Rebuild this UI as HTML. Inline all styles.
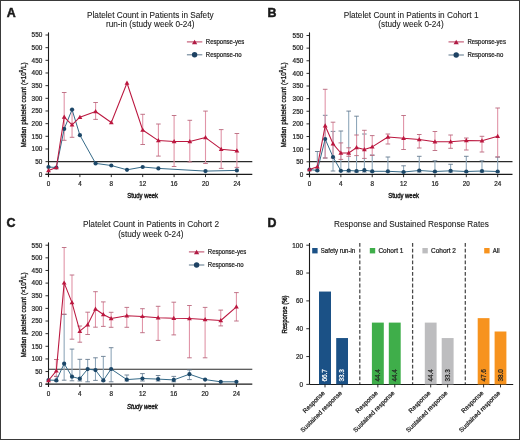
<!DOCTYPE html>
<html><head><meta charset="utf-8"><style>
html,body{margin:0;padding:0;background:#fff;}
svg{display:block;will-change:transform;}
text{font-family:"Liberation Sans", sans-serif;stroke:#1a1a1a;stroke-width:0.22px;}
.w{fill:#fff;stroke:#fff;}
.L{font-weight:bold;stroke-width:0.5px;}
.T text{stroke-width:0.08px;}
.k{fill:#222;stroke:#222;}
</style></head><body>
<svg width="520" height="440" viewBox="0 0 520 440" fill="#1a1a1a">
<rect x="0" y="0" width="520" height="440" fill="#fff"/>
<rect x="0.5" y="0.5" width="519" height="439" fill="none" stroke="#3a3a3a" stroke-width="1"/>
<g font-weight="bold" font-size="12.4">
<text x="6.8" y="16.8" class="L">A</text>
<text x="267.6" y="16.8" class="L">B</text>
<text x="6.6" y="226.8" class="L">C</text>
<text x="267.4" y="226.7" class="L">D</text>
</g>
<g font-size="8.22" text-anchor="middle" class="T">
<text x="150.3" y="17.7">Platelet Count in Patients in Safety</text>
<text x="150.3" y="27.1">run-in (study week 0-24)</text>
<text x="411.1" y="17.7">Platelet Count in Patients in Cohort 1</text>
<text x="411.0" y="27.1">(study week 0-24)</text>
<text x="151.0" y="227.4" font-size="8.3">Platelet Count in Patients in Cohort 2</text>
<text x="150.8" y="236.6">(study week 0-24)</text>
<text x="411.4" y="226.9">Response and Sustained Response Rates</text>
</g>
<path d="M48.50 32.40V177.10" stroke="#1a1a1a" stroke-width="1.1"/>
<path d="M45.50 174.30H48.50" stroke="#1a1a1a" stroke-width="0.9"/>
<text transform="translate(42.30 176.65) scale(0.97 1)" font-size="6.6" text-anchor="end" fill="#2a2a2a">0</text>
<path d="M45.50 161.64H48.50" stroke="#1a1a1a" stroke-width="0.9"/>
<text transform="translate(42.30 163.99) scale(0.97 1)" font-size="6.6" text-anchor="end" fill="#2a2a2a">50</text>
<path d="M45.50 148.97H48.50" stroke="#1a1a1a" stroke-width="0.9"/>
<text transform="translate(42.30 151.32) scale(0.97 1)" font-size="6.6" text-anchor="end" fill="#2a2a2a">100</text>
<path d="M45.50 136.31H48.50" stroke="#1a1a1a" stroke-width="0.9"/>
<text transform="translate(42.30 138.66) scale(0.97 1)" font-size="6.6" text-anchor="end" fill="#2a2a2a">150</text>
<path d="M45.50 123.65H48.50" stroke="#1a1a1a" stroke-width="0.9"/>
<text transform="translate(42.30 126.00) scale(0.97 1)" font-size="6.6" text-anchor="end" fill="#2a2a2a">200</text>
<path d="M45.50 110.98H48.50" stroke="#1a1a1a" stroke-width="0.9"/>
<text transform="translate(42.30 113.33) scale(0.97 1)" font-size="6.6" text-anchor="end" fill="#2a2a2a">250</text>
<path d="M45.50 98.32H48.50" stroke="#1a1a1a" stroke-width="0.9"/>
<text transform="translate(42.30 100.67) scale(0.97 1)" font-size="6.6" text-anchor="end" fill="#2a2a2a">300</text>
<path d="M45.50 85.65H48.50" stroke="#1a1a1a" stroke-width="0.9"/>
<text transform="translate(42.30 88.00) scale(0.97 1)" font-size="6.6" text-anchor="end" fill="#2a2a2a">350</text>
<path d="M45.50 72.99H48.50" stroke="#1a1a1a" stroke-width="0.9"/>
<text transform="translate(42.30 75.34) scale(0.97 1)" font-size="6.6" text-anchor="end" fill="#2a2a2a">400</text>
<path d="M45.50 60.33H48.50" stroke="#1a1a1a" stroke-width="0.9"/>
<text transform="translate(42.30 62.68) scale(0.97 1)" font-size="6.6" text-anchor="end" fill="#2a2a2a">450</text>
<path d="M45.50 47.66H48.50" stroke="#1a1a1a" stroke-width="0.9"/>
<text transform="translate(42.30 50.01) scale(0.97 1)" font-size="6.6" text-anchor="end" fill="#2a2a2a">500</text>
<path d="M45.50 35.00H48.50" stroke="#1a1a1a" stroke-width="0.9"/>
<text transform="translate(42.30 37.35) scale(0.97 1)" font-size="6.6" text-anchor="end" fill="#2a2a2a">550</text>
<path d="M45.50 174.30H252.30" stroke="#1a1a1a" stroke-width="1.2"/>
<path d="M48.50 174.30V177.10" stroke="#1a1a1a" stroke-width="0.9"/>
<text transform="translate(48.50 186.30) scale(0.97 1)" font-size="6.5" text-anchor="middle" fill="#2a2a2a">0</text>
<path d="M79.90 174.30V177.10" stroke="#1a1a1a" stroke-width="0.9"/>
<text transform="translate(79.90 186.30) scale(0.97 1)" font-size="6.5" text-anchor="middle" fill="#2a2a2a">4</text>
<path d="M111.30 174.30V177.10" stroke="#1a1a1a" stroke-width="0.9"/>
<text transform="translate(111.30 186.30) scale(0.97 1)" font-size="6.5" text-anchor="middle" fill="#2a2a2a">8</text>
<path d="M142.70 174.30V177.10" stroke="#1a1a1a" stroke-width="0.9"/>
<text transform="translate(142.70 186.30) scale(0.97 1)" font-size="6.5" text-anchor="middle" fill="#2a2a2a">12</text>
<path d="M174.10 174.30V177.10" stroke="#1a1a1a" stroke-width="0.9"/>
<text transform="translate(174.10 186.30) scale(0.97 1)" font-size="6.5" text-anchor="middle" fill="#2a2a2a">16</text>
<path d="M205.50 174.30V177.10" stroke="#1a1a1a" stroke-width="0.9"/>
<text transform="translate(205.50 186.30) scale(0.97 1)" font-size="6.5" text-anchor="middle" fill="#2a2a2a">20</text>
<path d="M236.90 174.30V177.10" stroke="#1a1a1a" stroke-width="0.9"/>
<text transform="translate(236.90 186.30) scale(0.97 1)" font-size="6.5" text-anchor="middle" fill="#2a2a2a">24</text>
<path d="M48.50 161.60H252.30" stroke="#2a2a2a" stroke-width="1.05"/>
<path d="M64.20 92.50V140.30" stroke="#e195a8" stroke-width="1.1" fill="none"/><path d="M61.90 92.50H66.50M61.90 140.30H66.50" stroke="#b9687d" stroke-width="0.9" fill="none"/>
<path d="M72.05 110.00V137.30" stroke="#e195a8" stroke-width="1.1" fill="none"/><path d="M69.75 110.00H74.35M69.75 137.30H74.35" stroke="#b9687d" stroke-width="0.9" fill="none"/>
<path d="M95.60 102.50V119.40" stroke="#e195a8" stroke-width="1.1" fill="none"/><path d="M93.30 102.50H97.90M93.30 119.40H97.90" stroke="#b9687d" stroke-width="0.9" fill="none"/>
<path d="M142.70 114.30V144.50" stroke="#e195a8" stroke-width="1.1" fill="none"/><path d="M140.40 114.30H145.00M140.40 144.50H145.00" stroke="#b9687d" stroke-width="0.9" fill="none"/>
<path d="M158.40 124.00V156.10" stroke="#e195a8" stroke-width="1.1" fill="none"/><path d="M156.10 124.00H160.70M156.10 156.10H160.70" stroke="#b9687d" stroke-width="0.9" fill="none"/>
<path d="M174.10 115.50V166.50" stroke="#e195a8" stroke-width="1.1" fill="none"/><path d="M171.80 115.50H176.40M171.80 166.50H176.40" stroke="#b9687d" stroke-width="0.9" fill="none"/>
<path d="M189.80 120.30V161.90" stroke="#e195a8" stroke-width="1.1" fill="none"/><path d="M187.50 120.30H192.10M187.50 161.90H192.10" stroke="#b9687d" stroke-width="0.9" fill="none"/>
<path d="M205.50 111.10V163.50" stroke="#e195a8" stroke-width="1.1" fill="none"/><path d="M203.20 111.10H207.80M203.20 163.50H207.80" stroke="#b9687d" stroke-width="0.9" fill="none"/>
<path d="M221.20 129.60V168.40" stroke="#e195a8" stroke-width="1.1" fill="none"/><path d="M218.90 129.60H223.50M218.90 168.40H223.50" stroke="#b9687d" stroke-width="0.9" fill="none"/>
<path d="M236.90 133.50V167.40" stroke="#e195a8" stroke-width="1.1" fill="none"/><path d="M234.60 133.50H239.20M234.60 167.40H239.20" stroke="#b9687d" stroke-width="0.9" fill="none"/>
<polyline points="48.50,167.00 56.35,167.50 64.20,128.90 72.05,109.60 79.90,135.20 95.60,163.40 111.30,165.50 127.00,169.80 142.70,167.00 158.40,168.40 205.50,171.10 236.90,170.40" fill="none" stroke="#356a88" stroke-width="1.0" stroke-linejoin="round"/>
<circle cx="48.50" cy="167.00" r="2.1" fill="#1c4768"/>
<circle cx="56.35" cy="167.50" r="2.1" fill="#1c4768"/>
<circle cx="64.20" cy="128.90" r="2.1" fill="#1c4768"/>
<circle cx="72.05" cy="109.60" r="2.1" fill="#1c4768"/>
<circle cx="79.90" cy="135.20" r="2.1" fill="#1c4768"/>
<circle cx="95.60" cy="163.40" r="2.1" fill="#1c4768"/>
<circle cx="111.30" cy="165.50" r="2.1" fill="#1c4768"/>
<circle cx="127.00" cy="169.80" r="2.1" fill="#1c4768"/>
<circle cx="142.70" cy="167.00" r="2.1" fill="#1c4768"/>
<circle cx="158.40" cy="168.40" r="2.1" fill="#1c4768"/>
<circle cx="205.50" cy="171.10" r="2.1" fill="#1c4768"/>
<circle cx="236.90" cy="170.40" r="2.1" fill="#1c4768"/>
<polyline points="48.50,170.50 56.35,167.50 64.20,117.10 72.05,124.80 79.90,117.20 95.60,111.50 111.30,122.50 127.00,83.00 142.70,130.00 158.40,140.60 174.10,141.50 189.80,141.50 205.50,137.60 221.20,149.20 236.90,150.80" fill="none" stroke="#bb173f" stroke-width="1.05" stroke-linejoin="round"/>
<path d="M48.50 167.98L50.90 172.18L46.10 172.18Z" fill="#bb173f"/>
<path d="M56.35 164.98L58.75 169.18L53.95 169.18Z" fill="#bb173f"/>
<path d="M64.20 114.58L66.60 118.78L61.80 118.78Z" fill="#bb173f"/>
<path d="M72.05 122.28L74.45 126.48L69.65 126.48Z" fill="#bb173f"/>
<path d="M79.90 114.68L82.30 118.88L77.50 118.88Z" fill="#bb173f"/>
<path d="M95.60 108.98L98.00 113.18L93.20 113.18Z" fill="#bb173f"/>
<path d="M111.30 119.98L113.70 124.18L108.90 124.18Z" fill="#bb173f"/>
<path d="M127.00 80.48L129.40 84.68L124.60 84.68Z" fill="#bb173f"/>
<path d="M142.70 127.48L145.10 131.68L140.30 131.68Z" fill="#bb173f"/>
<path d="M158.40 138.08L160.80 142.28L156.00 142.28Z" fill="#bb173f"/>
<path d="M174.10 138.98L176.50 143.18L171.70 143.18Z" fill="#bb173f"/>
<path d="M189.80 138.98L192.20 143.18L187.40 143.18Z" fill="#bb173f"/>
<path d="M205.50 135.08L207.90 139.28L203.10 139.28Z" fill="#bb173f"/>
<path d="M221.20 146.68L223.60 150.88L218.80 150.88Z" fill="#bb173f"/>
<path d="M236.90 148.28L239.30 152.48L234.50 152.48Z" fill="#bb173f"/>
<path d="M186.90 41.90h15.4" stroke="#c0506c" stroke-width="1.1"/>
<path d="M194.60 39.77L197.20 44.32L192.00 44.32Z" fill="#b01a44"/>
<text transform="translate(205.80 44.20) scale(0.915 1)" font-size="6.6" text-anchor="start" >Response-yes</text>
<path d="M186.90 54.80h15.4" stroke="#6a8194" stroke-width="1.1"/>
<circle cx="194.60" cy="54.80" r="2.7" fill="#1d4263"/>
<text transform="translate(205.80 57.10) scale(0.915 1)" font-size="6.6" text-anchor="start" >Response-no</text>
<text transform="translate(142.70 197.60) scale(0.84 1)" font-size="7.1" text-anchor="middle" style="stroke-width:0.42px" >Study week</text>
<text transform="translate(25.50 105.00) rotate(-90) scale(0.79 1)" font-size="8.1" text-anchor="middle" style="stroke-width:0.36px">Median platelet count (×10<tspan font-size="5.2" dy="-3">9</tspan><tspan dy="3">/L)</tspan></text>
<path d="M309.50 32.40V177.20" stroke="#1a1a1a" stroke-width="1.1"/>
<path d="M306.50 174.40H309.50" stroke="#1a1a1a" stroke-width="0.9"/>
<text transform="translate(303.30 176.75) scale(0.97 1)" font-size="6.6" text-anchor="end" fill="#2a2a2a">0</text>
<path d="M306.50 161.77H309.50" stroke="#1a1a1a" stroke-width="0.9"/>
<text transform="translate(303.30 164.12) scale(0.97 1)" font-size="6.6" text-anchor="end" fill="#2a2a2a">50</text>
<path d="M306.50 149.15H309.50" stroke="#1a1a1a" stroke-width="0.9"/>
<text transform="translate(303.30 151.50) scale(0.97 1)" font-size="6.6" text-anchor="end" fill="#2a2a2a">100</text>
<path d="M306.50 136.52H309.50" stroke="#1a1a1a" stroke-width="0.9"/>
<text transform="translate(303.30 138.87) scale(0.97 1)" font-size="6.6" text-anchor="end" fill="#2a2a2a">150</text>
<path d="M306.50 123.89H309.50" stroke="#1a1a1a" stroke-width="0.9"/>
<text transform="translate(303.30 126.24) scale(0.97 1)" font-size="6.6" text-anchor="end" fill="#2a2a2a">200</text>
<path d="M306.50 111.26H309.50" stroke="#1a1a1a" stroke-width="0.9"/>
<text transform="translate(303.30 113.61) scale(0.97 1)" font-size="6.6" text-anchor="end" fill="#2a2a2a">250</text>
<path d="M306.50 98.64H309.50" stroke="#1a1a1a" stroke-width="0.9"/>
<text transform="translate(303.30 100.99) scale(0.97 1)" font-size="6.6" text-anchor="end" fill="#2a2a2a">300</text>
<path d="M306.50 86.01H309.50" stroke="#1a1a1a" stroke-width="0.9"/>
<text transform="translate(303.30 88.36) scale(0.97 1)" font-size="6.6" text-anchor="end" fill="#2a2a2a">350</text>
<path d="M306.50 73.38H309.50" stroke="#1a1a1a" stroke-width="0.9"/>
<text transform="translate(303.30 75.73) scale(0.97 1)" font-size="6.6" text-anchor="end" fill="#2a2a2a">400</text>
<path d="M306.50 60.75H309.50" stroke="#1a1a1a" stroke-width="0.9"/>
<text transform="translate(303.30 63.10) scale(0.97 1)" font-size="6.6" text-anchor="end" fill="#2a2a2a">450</text>
<path d="M306.50 48.13H309.50" stroke="#1a1a1a" stroke-width="0.9"/>
<text transform="translate(303.30 50.48) scale(0.97 1)" font-size="6.6" text-anchor="end" fill="#2a2a2a">500</text>
<path d="M306.50 35.50H309.50" stroke="#1a1a1a" stroke-width="0.9"/>
<text transform="translate(303.30 37.85) scale(0.97 1)" font-size="6.6" text-anchor="end" fill="#2a2a2a">550</text>
<path d="M306.50 174.40H512.50" stroke="#1a1a1a" stroke-width="1.2"/>
<path d="M309.50 174.40V177.20" stroke="#1a1a1a" stroke-width="0.9"/>
<text transform="translate(309.50 186.40) scale(0.97 1)" font-size="6.5" text-anchor="middle" fill="#2a2a2a">0</text>
<path d="M340.86 174.40V177.20" stroke="#1a1a1a" stroke-width="0.9"/>
<text transform="translate(340.86 186.40) scale(0.97 1)" font-size="6.5" text-anchor="middle" fill="#2a2a2a">4</text>
<path d="M372.22 174.40V177.20" stroke="#1a1a1a" stroke-width="0.9"/>
<text transform="translate(372.22 186.40) scale(0.97 1)" font-size="6.5" text-anchor="middle" fill="#2a2a2a">8</text>
<path d="M403.58 174.40V177.20" stroke="#1a1a1a" stroke-width="0.9"/>
<text transform="translate(403.58 186.40) scale(0.97 1)" font-size="6.5" text-anchor="middle" fill="#2a2a2a">12</text>
<path d="M434.94 174.40V177.20" stroke="#1a1a1a" stroke-width="0.9"/>
<text transform="translate(434.94 186.40) scale(0.97 1)" font-size="6.5" text-anchor="middle" fill="#2a2a2a">16</text>
<path d="M466.30 174.40V177.20" stroke="#1a1a1a" stroke-width="0.9"/>
<text transform="translate(466.30 186.40) scale(0.97 1)" font-size="6.5" text-anchor="middle" fill="#2a2a2a">20</text>
<path d="M497.66 174.40V177.20" stroke="#1a1a1a" stroke-width="0.9"/>
<text transform="translate(497.66 186.40) scale(0.97 1)" font-size="6.5" text-anchor="middle" fill="#2a2a2a">24</text>
<path d="M309.50 161.60H512.50" stroke="#2a2a2a" stroke-width="1.05"/>
<path d="M317.34 151.50V171.00" stroke="#8fa7ba" stroke-width="1.1" fill="none"/><path d="M315.04 151.50H319.64M315.04 171.00H319.64" stroke="#667b8e" stroke-width="0.9" fill="none"/>
<path d="M325.18 115.30V158.00" stroke="#8fa7ba" stroke-width="1.1" fill="none"/><path d="M322.88 115.30H327.48M322.88 158.00H327.48" stroke="#667b8e" stroke-width="0.9" fill="none"/>
<path d="M333.02 131.40V171.00" stroke="#8fa7ba" stroke-width="1.1" fill="none"/><path d="M330.72 131.40H335.32M330.72 171.00H335.32" stroke="#667b8e" stroke-width="0.9" fill="none"/>
<path d="M340.86 131.00V171.00" stroke="#8fa7ba" stroke-width="1.1" fill="none"/><path d="M338.56 131.00H343.16M338.56 171.00H343.16" stroke="#667b8e" stroke-width="0.9" fill="none"/>
<path d="M348.70 111.10V172.00" stroke="#8fa7ba" stroke-width="1.1" fill="none"/><path d="M346.40 111.10H351.00M346.40 172.00H351.00" stroke="#667b8e" stroke-width="0.9" fill="none"/>
<path d="M356.54 116.20V172.00" stroke="#8fa7ba" stroke-width="1.1" fill="none"/><path d="M354.24 116.20H358.84M354.24 172.00H358.84" stroke="#667b8e" stroke-width="0.9" fill="none"/>
<path d="M364.38 134.00V172.00" stroke="#8fa7ba" stroke-width="1.1" fill="none"/><path d="M362.08 134.00H366.68M362.08 172.00H366.68" stroke="#667b8e" stroke-width="0.9" fill="none"/>
<path d="M372.22 155.00V172.00" stroke="#8fa7ba" stroke-width="1.1" fill="none"/><path d="M369.92 155.00H374.52M369.92 172.00H374.52" stroke="#667b8e" stroke-width="0.9" fill="none"/>
<path d="M387.90 157.00V172.00" stroke="#8fa7ba" stroke-width="1.1" fill="none"/><path d="M385.60 157.00H390.20M385.60 172.00H390.20" stroke="#667b8e" stroke-width="0.9" fill="none"/>
<path d="M403.58 165.80V172.00" stroke="#8fa7ba" stroke-width="1.1" fill="none"/><path d="M401.28 165.80H405.88M401.28 172.00H405.88" stroke="#667b8e" stroke-width="0.9" fill="none"/>
<path d="M419.26 156.30V172.00" stroke="#8fa7ba" stroke-width="1.1" fill="none"/><path d="M416.96 156.30H421.56M416.96 172.00H421.56" stroke="#667b8e" stroke-width="0.9" fill="none"/>
<path d="M434.94 160.80V172.00" stroke="#8fa7ba" stroke-width="1.1" fill="none"/><path d="M432.64 160.80H437.24M432.64 172.00H437.24" stroke="#667b8e" stroke-width="0.9" fill="none"/>
<path d="M450.62 164.30V172.00" stroke="#8fa7ba" stroke-width="1.1" fill="none"/><path d="M448.32 164.30H452.92M448.32 172.00H452.92" stroke="#667b8e" stroke-width="0.9" fill="none"/>
<path d="M466.30 156.30V172.00" stroke="#8fa7ba" stroke-width="1.1" fill="none"/><path d="M464.00 156.30H468.60M464.00 172.00H468.60" stroke="#667b8e" stroke-width="0.9" fill="none"/>
<path d="M481.98 160.80V172.00" stroke="#8fa7ba" stroke-width="1.1" fill="none"/><path d="M479.68 160.80H484.28M479.68 172.00H484.28" stroke="#667b8e" stroke-width="0.9" fill="none"/>
<path d="M497.66 157.00V172.00" stroke="#8fa7ba" stroke-width="1.1" fill="none"/><path d="M495.36 157.00H499.96M495.36 172.00H499.96" stroke="#667b8e" stroke-width="0.9" fill="none"/>
<path d="M325.18 89.30V158.00" stroke="#e195a8" stroke-width="1.1" fill="none"/><path d="M322.88 89.30H327.48M322.88 158.00H327.48" stroke="#b9687d" stroke-width="0.9" fill="none"/>
<path d="M333.02 122.20V158.00" stroke="#e195a8" stroke-width="1.1" fill="none"/><path d="M330.72 122.20H335.32M330.72 158.00H335.32" stroke="#b9687d" stroke-width="0.9" fill="none"/>
<path d="M340.86 142.90V159.40" stroke="#e195a8" stroke-width="1.1" fill="none"/><path d="M338.56 142.90H343.16M338.56 159.40H343.16" stroke="#b9687d" stroke-width="0.9" fill="none"/>
<path d="M348.70 147.80V156.30" stroke="#e195a8" stroke-width="1.1" fill="none"/><path d="M346.40 147.80H351.00M346.40 156.30H351.00" stroke="#b9687d" stroke-width="0.9" fill="none"/>
<path d="M356.54 135.00V155.60" stroke="#e195a8" stroke-width="1.1" fill="none"/><path d="M354.24 135.00H358.84M354.24 155.60H358.84" stroke="#b9687d" stroke-width="0.9" fill="none"/>
<path d="M364.38 130.30V158.40" stroke="#e195a8" stroke-width="1.1" fill="none"/><path d="M362.08 130.30H366.68M362.08 158.40H366.68" stroke="#b9687d" stroke-width="0.9" fill="none"/>
<path d="M372.22 135.60V155.40" stroke="#e195a8" stroke-width="1.1" fill="none"/><path d="M369.92 135.60H374.52M369.92 155.40H374.52" stroke="#b9687d" stroke-width="0.9" fill="none"/>
<path d="M387.90 134.00V144.00" stroke="#e195a8" stroke-width="1.1" fill="none"/><path d="M385.60 134.00H390.20M385.60 144.00H390.20" stroke="#b9687d" stroke-width="0.9" fill="none"/>
<path d="M403.58 115.50V149.50" stroke="#e195a8" stroke-width="1.1" fill="none"/><path d="M401.28 115.50H405.88M401.28 149.50H405.88" stroke="#b9687d" stroke-width="0.9" fill="none"/>
<path d="M419.26 134.50V148.00" stroke="#e195a8" stroke-width="1.1" fill="none"/><path d="M416.96 134.50H421.56M416.96 148.00H421.56" stroke="#b9687d" stroke-width="0.9" fill="none"/>
<path d="M434.94 131.50V150.50" stroke="#e195a8" stroke-width="1.1" fill="none"/><path d="M432.64 131.50H437.24M432.64 150.50H437.24" stroke="#b9687d" stroke-width="0.9" fill="none"/>
<path d="M450.62 135.00V148.30" stroke="#e195a8" stroke-width="1.1" fill="none"/><path d="M448.32 135.00H452.92M448.32 148.30H452.92" stroke="#b9687d" stroke-width="0.9" fill="none"/>
<path d="M466.30 138.00V150.00" stroke="#e195a8" stroke-width="1.1" fill="none"/><path d="M464.00 138.00H468.60M464.00 150.00H468.60" stroke="#b9687d" stroke-width="0.9" fill="none"/>
<path d="M481.98 136.30V152.00" stroke="#e195a8" stroke-width="1.1" fill="none"/><path d="M479.68 136.30H484.28M479.68 152.00H484.28" stroke="#b9687d" stroke-width="0.9" fill="none"/>
<path d="M497.66 108.00V157.00" stroke="#e195a8" stroke-width="1.1" fill="none"/><path d="M495.36 108.00H499.96M495.36 157.00H499.96" stroke="#b9687d" stroke-width="0.9" fill="none"/>
<polyline points="309.50,169.60 317.34,170.40 325.18,139.00 333.02,157.00 340.86,170.80 348.70,170.50 356.54,171.00 364.38,170.20 372.22,171.30 387.90,171.30 403.58,172.00 419.26,170.50 434.94,171.50 450.62,170.80 466.30,171.50 481.98,171.00 497.66,171.50" fill="none" stroke="#356a88" stroke-width="1.0" stroke-linejoin="round"/>
<circle cx="309.50" cy="169.60" r="2.1" fill="#1c4768"/>
<circle cx="317.34" cy="170.40" r="2.1" fill="#1c4768"/>
<circle cx="325.18" cy="139.00" r="2.1" fill="#1c4768"/>
<circle cx="333.02" cy="157.00" r="2.1" fill="#1c4768"/>
<circle cx="340.86" cy="170.80" r="2.1" fill="#1c4768"/>
<circle cx="348.70" cy="170.50" r="2.1" fill="#1c4768"/>
<circle cx="356.54" cy="171.00" r="2.1" fill="#1c4768"/>
<circle cx="364.38" cy="170.20" r="2.1" fill="#1c4768"/>
<circle cx="372.22" cy="171.30" r="2.1" fill="#1c4768"/>
<circle cx="387.90" cy="171.30" r="2.1" fill="#1c4768"/>
<circle cx="403.58" cy="172.00" r="2.1" fill="#1c4768"/>
<circle cx="419.26" cy="170.50" r="2.1" fill="#1c4768"/>
<circle cx="434.94" cy="171.50" r="2.1" fill="#1c4768"/>
<circle cx="450.62" cy="170.80" r="2.1" fill="#1c4768"/>
<circle cx="466.30" cy="171.50" r="2.1" fill="#1c4768"/>
<circle cx="481.98" cy="171.00" r="2.1" fill="#1c4768"/>
<circle cx="497.66" cy="171.50" r="2.1" fill="#1c4768"/>
<polyline points="309.50,169.60 317.34,166.70 325.18,125.80 333.02,143.80 340.86,153.00 348.70,153.00 356.54,147.60 364.38,149.60 372.22,146.90 387.90,137.00 403.58,138.30 419.26,139.50 434.94,141.80 450.62,141.80 466.30,140.50 481.98,140.80 497.66,136.30" fill="none" stroke="#bb173f" stroke-width="1.05" stroke-linejoin="round"/>
<path d="M309.50 167.08L311.90 171.28L307.10 171.28Z" fill="#bb173f"/>
<path d="M317.34 164.18L319.74 168.38L314.94 168.38Z" fill="#bb173f"/>
<path d="M325.18 123.28L327.58 127.48L322.78 127.48Z" fill="#bb173f"/>
<path d="M333.02 141.28L335.42 145.48L330.62 145.48Z" fill="#bb173f"/>
<path d="M340.86 150.48L343.26 154.68L338.46 154.68Z" fill="#bb173f"/>
<path d="M348.70 150.48L351.10 154.68L346.30 154.68Z" fill="#bb173f"/>
<path d="M356.54 145.08L358.94 149.28L354.14 149.28Z" fill="#bb173f"/>
<path d="M364.38 147.08L366.78 151.28L361.98 151.28Z" fill="#bb173f"/>
<path d="M372.22 144.38L374.62 148.58L369.82 148.58Z" fill="#bb173f"/>
<path d="M387.90 134.48L390.30 138.68L385.50 138.68Z" fill="#bb173f"/>
<path d="M403.58 135.78L405.98 139.98L401.18 139.98Z" fill="#bb173f"/>
<path d="M419.26 136.98L421.66 141.18L416.86 141.18Z" fill="#bb173f"/>
<path d="M434.94 139.28L437.34 143.48L432.54 143.48Z" fill="#bb173f"/>
<path d="M450.62 139.28L453.02 143.48L448.22 143.48Z" fill="#bb173f"/>
<path d="M466.30 137.98L468.70 142.18L463.90 142.18Z" fill="#bb173f"/>
<path d="M481.98 138.28L484.38 142.48L479.58 142.48Z" fill="#bb173f"/>
<path d="M497.66 133.78L500.06 137.98L495.26 137.98Z" fill="#bb173f"/>
<path d="M448.50 41.90h15.4" stroke="#c0506c" stroke-width="1.1"/>
<path d="M456.20 39.77L458.80 44.32L453.60 44.32Z" fill="#b01a44"/>
<text transform="translate(467.40 44.20) scale(0.915 1)" font-size="6.6" text-anchor="start" >Response-yes</text>
<path d="M448.50 55.00h15.4" stroke="#6a8194" stroke-width="1.1"/>
<circle cx="456.20" cy="55.00" r="2.7" fill="#1d4263"/>
<text transform="translate(467.40 57.30) scale(0.915 1)" font-size="6.6" text-anchor="start" >Response-no</text>
<text transform="translate(403.58 197.80) scale(0.84 1)" font-size="7.1" text-anchor="middle" style="stroke-width:0.42px" >Study week</text>
<text transform="translate(286.30 105.00) rotate(-90) scale(0.79 1)" font-size="8.1" text-anchor="middle" style="stroke-width:0.36px">Median platelet count (×10<tspan font-size="5.2" dy="-3">9</tspan><tspan dy="3">/L)</tspan></text>
<path d="M48.50 242.40V387.00" stroke="#1a1a1a" stroke-width="1.1"/>
<path d="M45.50 384.20H48.50" stroke="#1a1a1a" stroke-width="0.9"/>
<text transform="translate(42.30 386.55) scale(0.97 1)" font-size="6.6" text-anchor="end" fill="#2a2a2a">0</text>
<path d="M45.50 371.56H48.50" stroke="#1a1a1a" stroke-width="0.9"/>
<text transform="translate(42.30 373.91) scale(0.97 1)" font-size="6.6" text-anchor="end" fill="#2a2a2a">50</text>
<path d="M45.50 358.93H48.50" stroke="#1a1a1a" stroke-width="0.9"/>
<text transform="translate(42.30 361.28) scale(0.97 1)" font-size="6.6" text-anchor="end" fill="#2a2a2a">100</text>
<path d="M45.50 346.29H48.50" stroke="#1a1a1a" stroke-width="0.9"/>
<text transform="translate(42.30 348.64) scale(0.97 1)" font-size="6.6" text-anchor="end" fill="#2a2a2a">150</text>
<path d="M45.50 333.65H48.50" stroke="#1a1a1a" stroke-width="0.9"/>
<text transform="translate(42.30 336.00) scale(0.97 1)" font-size="6.6" text-anchor="end" fill="#2a2a2a">200</text>
<path d="M45.50 321.02H48.50" stroke="#1a1a1a" stroke-width="0.9"/>
<text transform="translate(42.30 323.37) scale(0.97 1)" font-size="6.6" text-anchor="end" fill="#2a2a2a">250</text>
<path d="M45.50 308.38H48.50" stroke="#1a1a1a" stroke-width="0.9"/>
<text transform="translate(42.30 310.73) scale(0.97 1)" font-size="6.6" text-anchor="end" fill="#2a2a2a">300</text>
<path d="M45.50 295.75H48.50" stroke="#1a1a1a" stroke-width="0.9"/>
<text transform="translate(42.30 298.10) scale(0.97 1)" font-size="6.6" text-anchor="end" fill="#2a2a2a">350</text>
<path d="M45.50 283.11H48.50" stroke="#1a1a1a" stroke-width="0.9"/>
<text transform="translate(42.30 285.46) scale(0.97 1)" font-size="6.6" text-anchor="end" fill="#2a2a2a">400</text>
<path d="M45.50 270.47H48.50" stroke="#1a1a1a" stroke-width="0.9"/>
<text transform="translate(42.30 272.82) scale(0.97 1)" font-size="6.6" text-anchor="end" fill="#2a2a2a">450</text>
<path d="M45.50 257.84H48.50" stroke="#1a1a1a" stroke-width="0.9"/>
<text transform="translate(42.30 260.19) scale(0.97 1)" font-size="6.6" text-anchor="end" fill="#2a2a2a">500</text>
<path d="M45.50 245.20H48.50" stroke="#1a1a1a" stroke-width="0.9"/>
<text transform="translate(42.30 247.55) scale(0.97 1)" font-size="6.6" text-anchor="end" fill="#2a2a2a">550</text>
<path d="M45.50 384.20H252.30" stroke="#1a1a1a" stroke-width="1.2"/>
<path d="M48.50 384.20V387.00" stroke="#1a1a1a" stroke-width="0.9"/>
<text transform="translate(48.50 396.20) scale(0.97 1)" font-size="6.5" text-anchor="middle" fill="#2a2a2a">0</text>
<path d="M79.82 384.20V387.00" stroke="#1a1a1a" stroke-width="0.9"/>
<text transform="translate(79.82 396.20) scale(0.97 1)" font-size="6.5" text-anchor="middle" fill="#2a2a2a">4</text>
<path d="M111.14 384.20V387.00" stroke="#1a1a1a" stroke-width="0.9"/>
<text transform="translate(111.14 396.20) scale(0.97 1)" font-size="6.5" text-anchor="middle" fill="#2a2a2a">8</text>
<path d="M142.46 384.20V387.00" stroke="#1a1a1a" stroke-width="0.9"/>
<text transform="translate(142.46 396.20) scale(0.97 1)" font-size="6.5" text-anchor="middle" fill="#2a2a2a">12</text>
<path d="M173.78 384.20V387.00" stroke="#1a1a1a" stroke-width="0.9"/>
<text transform="translate(173.78 396.20) scale(0.97 1)" font-size="6.5" text-anchor="middle" fill="#2a2a2a">16</text>
<path d="M205.10 384.20V387.00" stroke="#1a1a1a" stroke-width="0.9"/>
<text transform="translate(205.10 396.20) scale(0.97 1)" font-size="6.5" text-anchor="middle" fill="#2a2a2a">20</text>
<path d="M236.42 384.20V387.00" stroke="#1a1a1a" stroke-width="0.9"/>
<text transform="translate(236.42 396.20) scale(0.97 1)" font-size="6.5" text-anchor="middle" fill="#2a2a2a">24</text>
<path d="M48.50 369.30H252.30" stroke="#2a2a2a" stroke-width="1.05"/>
<path d="M56.33 376.40V381.00" stroke="#8fa7ba" stroke-width="1.1" fill="none"/><path d="M54.03 376.40H58.63M54.03 381.00H58.63" stroke="#667b8e" stroke-width="0.9" fill="none"/>
<path d="M64.16 314.30V380.20" stroke="#8fa7ba" stroke-width="1.1" fill="none"/><path d="M61.86 314.30H66.46M61.86 380.20H66.46" stroke="#667b8e" stroke-width="0.9" fill="none"/>
<path d="M71.99 349.10V380.80" stroke="#8fa7ba" stroke-width="1.1" fill="none"/><path d="M69.69 349.10H74.29M69.69 380.80H74.29" stroke="#667b8e" stroke-width="0.9" fill="none"/>
<path d="M79.82 359.30V381.00" stroke="#8fa7ba" stroke-width="1.1" fill="none"/><path d="M77.52 359.30H82.12M77.52 381.00H82.12" stroke="#667b8e" stroke-width="0.9" fill="none"/>
<path d="M87.65 359.40V381.80" stroke="#8fa7ba" stroke-width="1.1" fill="none"/><path d="M85.35 359.40H89.95M85.35 381.80H89.95" stroke="#667b8e" stroke-width="0.9" fill="none"/>
<path d="M95.48 357.80V380.40" stroke="#8fa7ba" stroke-width="1.1" fill="none"/><path d="M93.18 357.80H97.78M93.18 380.40H97.78" stroke="#667b8e" stroke-width="0.9" fill="none"/>
<path d="M103.31 356.40V381.00" stroke="#8fa7ba" stroke-width="1.1" fill="none"/><path d="M101.01 356.40H105.61M101.01 381.00H105.61" stroke="#667b8e" stroke-width="0.9" fill="none"/>
<path d="M111.14 347.70V381.80" stroke="#8fa7ba" stroke-width="1.1" fill="none"/><path d="M108.84 347.70H113.44M108.84 381.80H113.44" stroke="#667b8e" stroke-width="0.9" fill="none"/>
<path d="M126.80 375.00V381.00" stroke="#8fa7ba" stroke-width="1.1" fill="none"/><path d="M124.50 375.00H129.10M124.50 381.00H129.10" stroke="#667b8e" stroke-width="0.9" fill="none"/>
<path d="M142.46 373.60V381.00" stroke="#8fa7ba" stroke-width="1.1" fill="none"/><path d="M140.16 373.60H144.76M140.16 381.00H144.76" stroke="#667b8e" stroke-width="0.9" fill="none"/>
<path d="M158.12 375.50V381.00" stroke="#8fa7ba" stroke-width="1.1" fill="none"/><path d="M155.82 375.50H160.42M155.82 381.00H160.42" stroke="#667b8e" stroke-width="0.9" fill="none"/>
<path d="M173.78 376.40V381.80" stroke="#8fa7ba" stroke-width="1.1" fill="none"/><path d="M171.48 376.40H176.08M171.48 381.80H176.08" stroke="#667b8e" stroke-width="0.9" fill="none"/>
<path d="M189.44 370.00V379.60" stroke="#8fa7ba" stroke-width="1.1" fill="none"/><path d="M187.14 370.00H191.74M187.14 379.60H191.74" stroke="#667b8e" stroke-width="0.9" fill="none"/>
<path d="M56.33 359.50V376.40" stroke="#e195a8" stroke-width="1.1" fill="none"/><path d="M54.03 359.50H58.63M54.03 376.40H58.63" stroke="#b9687d" stroke-width="0.9" fill="none"/>
<path d="M64.16 247.50V314.30" stroke="#e195a8" stroke-width="1.1" fill="none"/><path d="M61.86 247.50H66.46M61.86 314.30H66.46" stroke="#b9687d" stroke-width="0.9" fill="none"/>
<path d="M71.99 275.00V339.20" stroke="#e195a8" stroke-width="1.1" fill="none"/><path d="M69.69 275.00H74.29M69.69 339.20H74.29" stroke="#b9687d" stroke-width="0.9" fill="none"/>
<path d="M79.82 326.00V342.20" stroke="#e195a8" stroke-width="1.1" fill="none"/><path d="M77.52 326.00H82.12M77.52 342.20H82.12" stroke="#b9687d" stroke-width="0.9" fill="none"/>
<path d="M87.65 312.20V334.50" stroke="#e195a8" stroke-width="1.1" fill="none"/><path d="M85.35 312.20H89.95M85.35 334.50H89.95" stroke="#b9687d" stroke-width="0.9" fill="none"/>
<path d="M95.48 291.70V327.20" stroke="#e195a8" stroke-width="1.1" fill="none"/><path d="M93.18 291.70H97.78M93.18 327.20H97.78" stroke="#b9687d" stroke-width="0.9" fill="none"/>
<path d="M103.31 301.90V326.40" stroke="#e195a8" stroke-width="1.1" fill="none"/><path d="M101.01 301.90H105.61M101.01 326.40H105.61" stroke="#b9687d" stroke-width="0.9" fill="none"/>
<path d="M111.14 312.30V327.30" stroke="#e195a8" stroke-width="1.1" fill="none"/><path d="M108.84 312.30H113.44M108.84 327.30H113.44" stroke="#b9687d" stroke-width="0.9" fill="none"/>
<path d="M126.80 307.40V327.30" stroke="#e195a8" stroke-width="1.1" fill="none"/><path d="M124.50 307.40H129.10M124.50 327.30H129.10" stroke="#b9687d" stroke-width="0.9" fill="none"/>
<path d="M142.46 308.70V332.70" stroke="#e195a8" stroke-width="1.1" fill="none"/><path d="M140.16 308.70H144.76M140.16 332.70H144.76" stroke="#b9687d" stroke-width="0.9" fill="none"/>
<path d="M158.12 306.30V340.40" stroke="#e195a8" stroke-width="1.1" fill="none"/><path d="M155.82 306.30H160.42M155.82 340.40H160.42" stroke="#b9687d" stroke-width="0.9" fill="none"/>
<path d="M173.78 302.20V334.90" stroke="#e195a8" stroke-width="1.1" fill="none"/><path d="M171.48 302.20H176.08M171.48 334.90H176.08" stroke="#b9687d" stroke-width="0.9" fill="none"/>
<path d="M189.44 305.50V357.80" stroke="#e195a8" stroke-width="1.1" fill="none"/><path d="M187.14 305.50H191.74M187.14 357.80H191.74" stroke="#b9687d" stroke-width="0.9" fill="none"/>
<path d="M205.10 307.40V357.80" stroke="#e195a8" stroke-width="1.1" fill="none"/><path d="M202.80 307.40H207.40M202.80 357.80H207.40" stroke="#b9687d" stroke-width="0.9" fill="none"/>
<path d="M220.76 310.10V325.90" stroke="#e195a8" stroke-width="1.1" fill="none"/><path d="M218.46 310.10H223.06M218.46 325.90H223.06" stroke="#b9687d" stroke-width="0.9" fill="none"/>
<path d="M236.42 292.60V321.00" stroke="#e195a8" stroke-width="1.1" fill="none"/><path d="M234.12 292.60H238.72M234.12 321.00H238.72" stroke="#b9687d" stroke-width="0.9" fill="none"/>
<polyline points="48.50,380.00 56.33,380.40 64.16,363.70 71.99,376.70 79.82,378.70 87.65,369.10 95.48,370.10 103.31,380.40 111.14,369.00 126.80,379.60 142.46,378.50 158.12,379.10 173.78,379.90 189.44,374.20 205.10,379.60 220.76,381.80 236.42,381.80" fill="none" stroke="#356a88" stroke-width="1.0" stroke-linejoin="round"/>
<circle cx="48.50" cy="380.00" r="2.1" fill="#1c4768"/>
<circle cx="56.33" cy="380.40" r="2.1" fill="#1c4768"/>
<circle cx="64.16" cy="363.70" r="2.1" fill="#1c4768"/>
<circle cx="71.99" cy="376.70" r="2.1" fill="#1c4768"/>
<circle cx="79.82" cy="378.70" r="2.1" fill="#1c4768"/>
<circle cx="87.65" cy="369.10" r="2.1" fill="#1c4768"/>
<circle cx="95.48" cy="370.10" r="2.1" fill="#1c4768"/>
<circle cx="103.31" cy="380.40" r="2.1" fill="#1c4768"/>
<circle cx="111.14" cy="369.00" r="2.1" fill="#1c4768"/>
<circle cx="126.80" cy="379.60" r="2.1" fill="#1c4768"/>
<circle cx="142.46" cy="378.50" r="2.1" fill="#1c4768"/>
<circle cx="158.12" cy="379.10" r="2.1" fill="#1c4768"/>
<circle cx="173.78" cy="379.90" r="2.1" fill="#1c4768"/>
<circle cx="189.44" cy="374.20" r="2.1" fill="#1c4768"/>
<circle cx="205.10" cy="379.60" r="2.1" fill="#1c4768"/>
<circle cx="220.76" cy="381.80" r="2.1" fill="#1c4768"/>
<circle cx="236.42" cy="381.80" r="2.1" fill="#1c4768"/>
<polyline points="48.50,380.50 56.33,370.90 64.16,282.90 71.99,302.60 79.82,331.20 87.65,324.70 95.48,309.00 103.31,314.50 111.14,318.50 126.80,315.80 142.46,316.40 158.12,317.70 173.78,318.30 189.44,318.50 205.10,319.60 220.76,320.50 236.42,306.80" fill="none" stroke="#bb173f" stroke-width="1.05" stroke-linejoin="round"/>
<path d="M48.50 377.98L50.90 382.18L46.10 382.18Z" fill="#bb173f"/>
<path d="M56.33 368.38L58.73 372.58L53.93 372.58Z" fill="#bb173f"/>
<path d="M64.16 280.38L66.56 284.58L61.76 284.58Z" fill="#bb173f"/>
<path d="M71.99 300.08L74.39 304.28L69.59 304.28Z" fill="#bb173f"/>
<path d="M79.82 328.68L82.22 332.88L77.42 332.88Z" fill="#bb173f"/>
<path d="M87.65 322.18L90.05 326.38L85.25 326.38Z" fill="#bb173f"/>
<path d="M95.48 306.48L97.88 310.68L93.08 310.68Z" fill="#bb173f"/>
<path d="M103.31 311.98L105.71 316.18L100.91 316.18Z" fill="#bb173f"/>
<path d="M111.14 315.98L113.54 320.18L108.74 320.18Z" fill="#bb173f"/>
<path d="M126.80 313.28L129.20 317.48L124.40 317.48Z" fill="#bb173f"/>
<path d="M142.46 313.88L144.86 318.08L140.06 318.08Z" fill="#bb173f"/>
<path d="M158.12 315.18L160.52 319.38L155.72 319.38Z" fill="#bb173f"/>
<path d="M173.78 315.78L176.18 319.98L171.38 319.98Z" fill="#bb173f"/>
<path d="M189.44 315.98L191.84 320.18L187.04 320.18Z" fill="#bb173f"/>
<path d="M205.10 317.08L207.50 321.28L202.70 321.28Z" fill="#bb173f"/>
<path d="M220.76 317.98L223.16 322.18L218.36 322.18Z" fill="#bb173f"/>
<path d="M236.42 304.28L238.82 308.48L234.02 308.48Z" fill="#bb173f"/>
<path d="M188.90 251.90h15.4" stroke="#c0506c" stroke-width="1.1"/>
<path d="M196.60 249.77L199.20 254.32L194.00 254.32Z" fill="#b01a44"/>
<text transform="translate(207.80 254.20) scale(0.915 1)" font-size="6.6" text-anchor="start" >Response-yes</text>
<path d="M188.90 265.00h15.4" stroke="#6a8194" stroke-width="1.1"/>
<circle cx="196.60" cy="265.00" r="2.7" fill="#1d4263"/>
<text transform="translate(207.80 267.30) scale(0.915 1)" font-size="6.6" text-anchor="start" >Response-no</text>
<text transform="translate(142.46 408.60) scale(0.84 1)" font-size="7.1" text-anchor="middle" style="stroke-width:0.42px" font-style="italic">Study week</text>
<text transform="translate(25.70 315.00) rotate(-90) scale(0.79 1)" font-size="8.1" text-anchor="middle" style="stroke-width:0.36px">Median platelet count (×10<tspan font-size="5.2" dy="-3">9</tspan><tspan dy="3">/L)</tspan></text>
<path d="M309.50 243.00V384.40" stroke="#1a1a1a" stroke-width="1.1"/>
<path d="M306.30 384.40H309.50" stroke="#1a1a1a" stroke-width="0.9"/>
<text transform="translate(303.00 386.75) scale(0.97 1)" font-size="6.6" text-anchor="end" fill="#2a2a2a">0</text>
<path d="M306.30 356.56H309.50" stroke="#1a1a1a" stroke-width="0.9"/>
<text transform="translate(303.00 358.91) scale(0.97 1)" font-size="6.6" text-anchor="end" fill="#2a2a2a">20</text>
<path d="M306.30 328.72H309.50" stroke="#1a1a1a" stroke-width="0.9"/>
<text transform="translate(303.00 331.07) scale(0.97 1)" font-size="6.6" text-anchor="end" fill="#2a2a2a">40</text>
<path d="M306.30 300.88H309.50" stroke="#1a1a1a" stroke-width="0.9"/>
<text transform="translate(303.00 303.23) scale(0.97 1)" font-size="6.6" text-anchor="end" fill="#2a2a2a">60</text>
<path d="M306.30 273.04H309.50" stroke="#1a1a1a" stroke-width="0.9"/>
<text transform="translate(303.00 275.39) scale(0.97 1)" font-size="6.6" text-anchor="end" fill="#2a2a2a">80</text>
<path d="M306.30 245.20H309.50" stroke="#1a1a1a" stroke-width="0.9"/>
<text transform="translate(303.00 247.55) scale(0.97 1)" font-size="6.6" text-anchor="end" fill="#2a2a2a">100</text>
<path d="M309.50 384.5H513.2" stroke="#1a1a1a" stroke-width="1.1"/>
<rect x="319.00" y="291.55" width="12.00" height="92.85" fill="#1b5186"/>
<path d="M325.00 384.40V387.40" stroke="#1a1a1a" stroke-width="0.9"/>
<text class="w" transform="translate(327.20 381.60) rotate(-90)" font-size="6.4">66.7</text>
<rect x="336.20" y="338.05" width="11.80" height="46.35" fill="#1b5186"/>
<path d="M342.10 384.40V387.40" stroke="#1a1a1a" stroke-width="0.9"/>
<text class="w" transform="translate(344.30 381.60) rotate(-90)" font-size="6.4">33.3</text>
<rect x="371.90" y="322.60" width="11.90" height="61.80" fill="#3fae4a"/>
<path d="M377.85 384.40V387.40" stroke="#1a1a1a" stroke-width="0.9"/>
<text class="k" transform="translate(380.05 381.60) rotate(-90)" font-size="6.4">44.4</text>
<rect x="388.80" y="322.60" width="11.90" height="61.80" fill="#3fae4a"/>
<path d="M394.75 384.40V387.40" stroke="#1a1a1a" stroke-width="0.9"/>
<text class="k" transform="translate(396.95 381.60) rotate(-90)" font-size="6.4">44.4</text>
<rect x="424.80" y="322.60" width="11.80" height="61.80" fill="#bdbdbf"/>
<path d="M430.70 384.40V387.40" stroke="#1a1a1a" stroke-width="0.9"/>
<text class="k" transform="translate(432.90 381.60) rotate(-90)" font-size="6.4">44.4</text>
<rect x="441.70" y="338.05" width="11.90" height="46.35" fill="#bdbdbf"/>
<path d="M447.65 384.40V387.40" stroke="#1a1a1a" stroke-width="0.9"/>
<text class="k" transform="translate(449.85 381.60) rotate(-90)" font-size="6.4">33.3</text>
<rect x="477.70" y="318.14" width="11.80" height="66.26" fill="#f7931e"/>
<path d="M483.60 384.40V387.40" stroke="#1a1a1a" stroke-width="0.9"/>
<text class="k" transform="translate(485.80 381.60) rotate(-90)" font-size="6.4">47.6</text>
<rect x="494.60" y="331.50" width="11.80" height="52.90" fill="#f7931e"/>
<path d="M500.50 384.40V387.40" stroke="#1a1a1a" stroke-width="0.9"/>
<text class="k" transform="translate(502.70 381.60) rotate(-90)" font-size="6.4">38.0</text>
<text transform="translate(325.30 393.40) rotate(-45)" font-size="6.3" text-anchor="end">Response</text>
<text transform="translate(342.40 393.40) rotate(-45)" font-size="6.3" text-anchor="end">Sustained response</text>
<text transform="translate(378.15 393.40) rotate(-45)" font-size="6.3" text-anchor="end">Response</text>
<text transform="translate(395.05 393.40) rotate(-45)" font-size="6.3" text-anchor="end">Sustained response</text>
<text transform="translate(431.00 393.40) rotate(-45)" font-size="6.3" text-anchor="end">Response</text>
<text transform="translate(447.95 393.40) rotate(-45)" font-size="6.3" text-anchor="end">Sustained response</text>
<text transform="translate(483.90 393.40) rotate(-45)" font-size="6.3" text-anchor="end">Response</text>
<text transform="translate(500.80 393.40) rotate(-45)" font-size="6.3" text-anchor="end">Sustained response</text>
<path d="M359.80 243.00V384.00" stroke="#484848" stroke-width="1.25" stroke-dasharray="3.8 2"/>
<path d="M412.60 243.00V384.00" stroke="#484848" stroke-width="1.25" stroke-dasharray="3.8 2"/>
<path d="M465.30 243.00V384.00" stroke="#484848" stroke-width="1.25" stroke-dasharray="3.8 2"/>
<rect x="312.20" y="248.0" width="5.4" height="5.4" fill="#1b5186"/>
<text transform="translate(320.80 253.00) scale(0.92 1)" font-size="6.6" text-anchor="start" >Safety run-in</text>
<rect x="369.80" y="248.0" width="5.4" height="5.4" fill="#3fae4a"/>
<text transform="translate(378.40 253.00) scale(0.99 1)" font-size="6.6" text-anchor="start" >Cohort 1</text>
<rect x="422.40" y="248.0" width="5.4" height="5.4" fill="#bdbdbf"/>
<text transform="translate(431.00 253.00) scale(0.99 1)" font-size="6.6" text-anchor="start" >Cohort 2</text>
<rect x="484.20" y="248.0" width="5.4" height="5.4" fill="#f7931e"/>
<text transform="translate(492.80 253.00) scale(0.92 1)" font-size="6.6" text-anchor="start" >All</text>
<text transform="translate(287.3 314.5) rotate(-90) scale(0.84 1)" font-size="7.2" text-anchor="middle" style="stroke-width:0.42px">Response (%)</text>
</svg>
</body></html>
